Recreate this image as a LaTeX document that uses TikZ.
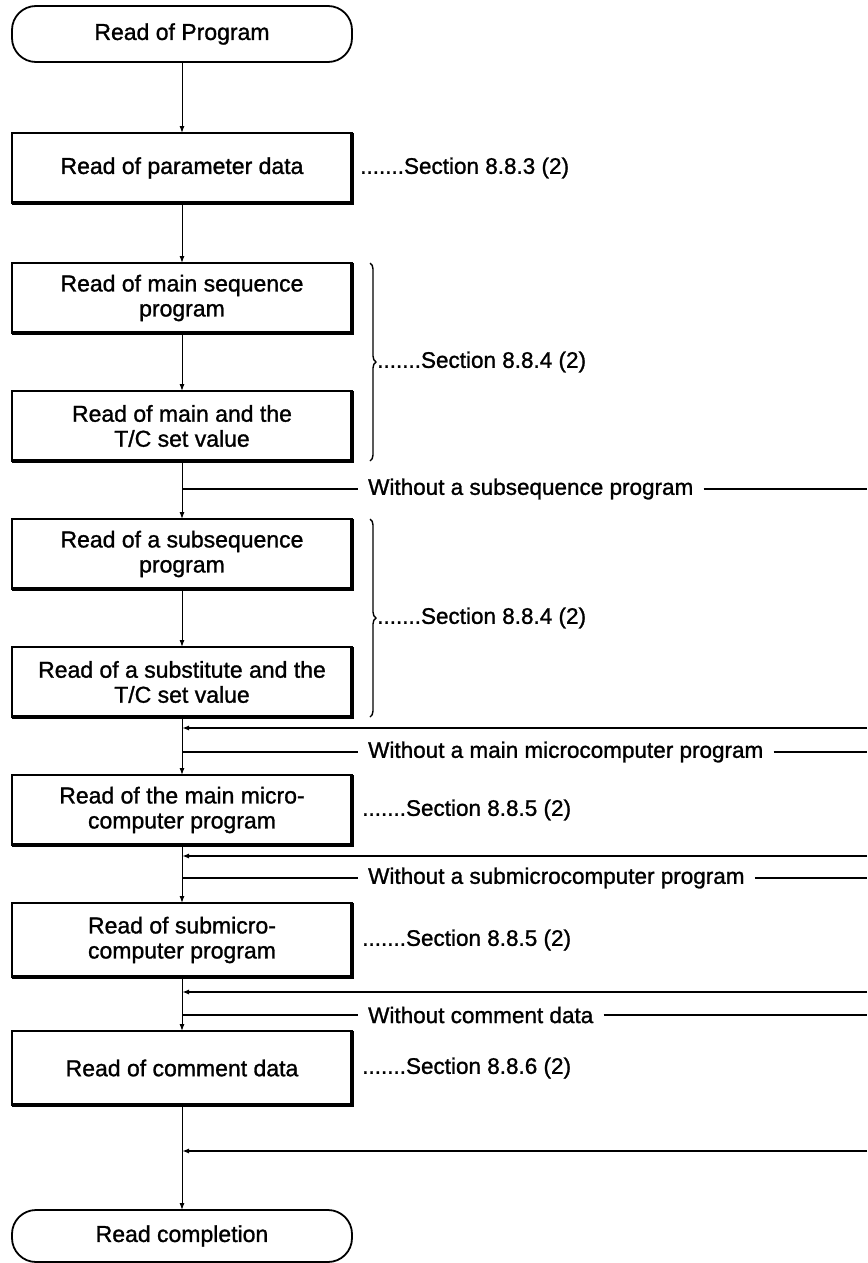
\documentclass[tikz,border=0pt]{standalone}
\usepackage{fontspec}
\setmainfont{Liberation Sans}
\newfontfamily\medsans[FakeBold=1.2]{Liberation Sans}
\usetikzlibrary{positioning, arrows.meta, calc, decorations.pathreplacing}
\tikzset{
  blk/.style={rectangle, draw, line width=1.4pt, align=center, outer sep=0pt,
              minimum width=340pt, minimum height=70pt, inner sep=3pt,
              font=\medsans\fontsize{23}{25}\selectfont},
  term/.style={rectangle, draw, rounded corners=24pt, line width=1.8pt, outer sep=0pt,
               minimum width=340pt, minimum height=56pt,
               font=\medsans\fontsize{23}{25}\selectfont},
  shadeln/.style={line width=4.5pt, line join=miter},
  arr/.style={-{Latex[length=7pt, width=5pt]}, line width=1pt},
  ln/.style={line width=1.4pt},
  lbl/.style={inner xsep=10pt, inner ysep=0pt, font=\medsans\fontsize{22.5}{24}\selectfont},
  sec/.style={anchor=west, inner sep=0pt, font=\medsans\fontsize{22.5}{24}\selectfont},
  brc/.style={decorate, decoration={brace, amplitude=6pt}, line width=1.4pt},
}
\begin{document}
\begin{tikzpicture}[x=1pt, y=1pt, node distance=58pt]
  \useasboundingbox (-182,34) rectangle (685,-1229);
  \coordinate (edge) at (685,0);

  % main flow
  \node[term] (start) at (0,0) {Read of Program};
  \node[blk, below=71pt of start] (param) {Read of parameter data};
  \node[blk, below=60pt of param] (mainseq) {Read of main sequence\\program};
  \node[blk, below=of mainseq] (maintc) {Read of main and the\\T/C set value};
  \node[blk, below=of maintc] (subseq) {Read of a subsequence\\program};
  \node[blk, below=of subseq] (subst) {Read of a substitute and the\\T/C set value};
  \node[blk, below=of subst] (mainmicro) {Read of the main micro-\\computer program};
  \node[blk, minimum height=74pt, below=of mainmicro] (submicro) {Read of submicro-\\computer program};
  \node[blk, minimum height=74pt, below=54pt of submicro] (comment) {Read of comment data};
  \node[term, minimum height=52pt, below=105pt of comment] (finish) {Read completion};

  \foreach \b in {param, mainseq, maintc, subseq, subst, mainmicro, submicro, comment}
    \draw[shadeln] (\b.north east) -- (\b.south east) -- (\b.south west);

  \draw[arr] (start) -- (param);
  \draw[arr] (param) -- (mainseq);
  \draw[arr] (mainseq) -- (maintc);
  \draw[arr] (maintc) -- (subseq);
  \draw[arr] (subseq) -- (subst);
  \draw[arr] (subst) -- (mainmicro);
  \draw[arr] (mainmicro) -- (submicro);
  \draw[arr] (submicro) -- (comment);
  \draw[arr] (comment) -- (finish);

  % section references
  \node[sec, right=8pt of param] (s1) {.......Section 8.8.3 (2)};
  \coordinate (br1a) at ([xshift=18pt]mainseq.north east);
  \coordinate (br1b) at ([xshift=18pt]maintc.south east);
  \draw[brc] (br1a) -- (br1b);
  \node[sec] (s2) at ([xshift=7pt]$(br1a)!0.5!(br1b)$) {.......Section 8.8.4 (2)};
  \coordinate (br2a) at ([xshift=18pt]subseq.north east);
  \coordinate (br2b) at ([xshift=18pt]subst.south east);
  \draw[brc] (br2a) -- (br2b);
  \node[sec] (s3) at ([xshift=7pt]$(br2a)!0.5!(br2b)$) {.......Section 8.8.4 (2)};
  \node[sec, right=10pt of mainmicro] (s4) {.......Section 8.8.5 (2)};
  \node[sec, right=10pt of submicro] (s5) {.......Section 8.8.5 (2)};
  \node[sec, right=10pt of comment] (s6) {.......Section 8.8.6 (2)};

  % bypass branches
  \coordinate (b1) at ([yshift=-28pt]maintc.south);
  \coordinate (r1) at ([yshift=-11pt]subst.south);
  \coordinate (b2) at ([yshift=-24pt]r1);
  \coordinate (r2) at ([yshift=-11pt]mainmicro.south);
  \coordinate (b3) at ([yshift=-22pt]r2);
  \coordinate (r3) at ([yshift=-15pt]submicro.south);
  \coordinate (b4) at ([yshift=-23pt]r3);
  \coordinate (r4) at ([yshift=-46pt]comment.south);

  \node[lbl, anchor=west] (w1) at ([xshift=176pt]b1) {Without a subsequence program};
  \node[lbl, anchor=west] (w2) at ([xshift=176pt]b2) {Without a main microcomputer program};
  \node[lbl, anchor=west] (w3) at ([xshift=176pt]b3) {Without a submicrocomputer program};
  \node[lbl, anchor=west] (w4) at ([xshift=176pt]b4) {Without comment data};

  \draw[ln] (b1) -- (w1.west);
  \draw[ln] (w1.east) -- (w1.east -| edge);
  \draw[ln] (b2) -- (w2.west);
  \draw[ln] (w2.east) -- (w2.east -| edge);
  \draw[ln] (b3) -- (w3.west);
  \draw[ln] (w3.east) -- (w3.east -| edge);
  \draw[ln] (b4) -- (w4.west);
  \draw[ln] (w4.east) -- (w4.east -| edge);

  \draw[arr, line width=1.4pt] (r1 -| edge) -- (r1);
  \draw[arr, line width=1.4pt] (r2 -| edge) -- (r2);
  \draw[arr, line width=1.4pt] (r3 -| edge) -- (r3);
  \draw[arr, line width=1.4pt] (r4 -| edge) -- (r4);
\end{tikzpicture}
\end{document}
